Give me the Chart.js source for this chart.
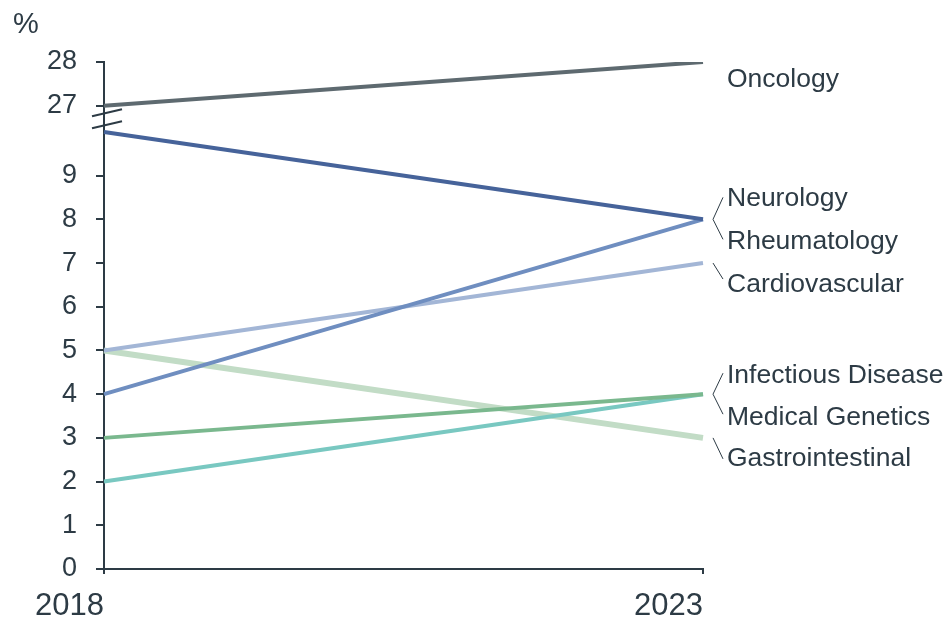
<!DOCTYPE html>
<html>
<head>
<meta charset="utf-8">
<script src="https://cdn.jsdelivr.net/npm/chart.js@4/dist/chart.umd.min.js"></script>
<style>
  html, body { margin: 0; padding: 0; background: #fff; }
  #wrap { width: 948px; height: 618px; }
</style>
</head>
<body>
<div id="wrap"><canvas id="chart" width="948" height="618"></canvas></div>
<script>
// data
const years = ["2018", "2023"];
const seriesNames = ["Oncology", "Neurology", "Rheumatology", "Cardiovascular",
  "Infectious Disease", "Medical Genetics", "Gastrointestinal"];
const oncology = [27, 28];
const neurology = [10, 8];
const rheumatology = [4, 8];
const cardiovascular = [5, 7];
const infectiousDisease = [3, 4];
const medicalGenetics = [2, 4];
const gastrointestinal = [5, 3];
const yTickValues = [0, 1, 2, 3, 4, 5, 6, 7, 8, 9, 27, 28];

// broken axis: values from 27 up are moved down to sit just above the break
const BREAK_AT = 10.3;
const UPPER_START = 10.6;
function toAxis(v) {
  return v >= 27 ? v - 27 + UPPER_START : v;
}
function fromAxis(v) {
  return v > BREAK_AT ? Math.round(v - UPPER_START + 27) : Math.round(v);
}

const INK = "#2d3b45";
const FONT = "'Liberation Sans', Arial, sans-serif";

const seriesValues = [oncology, neurology, rheumatology, cardiovascular,
  infectiousDisease, medicalGenetics, gastrointestinal];
const seriesColors = ["#5e6a70", "#46639a", "#6f8ec0", "#a3b6d6",
  "#7ab88e", "#79c8c1", "#c2dcc6"];
const seriesWidths = [4, 4, 4, 4, 4, 4, 6];

// label placement on the right (pixel offsets from the line end)
const labelOffsets = [17, -22, 21.5, 21, -19.5, 22.5, 20];
const leaderOffsets = [null, -22, 20, 16, -21, 20, 21];

const endLabels = {
  id: "endLabels",
  afterDatasetsDraw(chart) {
    const ctx = chart.ctx;
    const x = chart.scales.x;
    const y = chart.scales.y;
    const right = x.getPixelForValue(years.length - 1);

    ctx.save();
    ctx.fillStyle = INK;
    ctx.strokeStyle = INK;
    ctx.font = "26.5px " + FONT;
    ctx.textAlign = "left";
    ctx.textBaseline = "middle";

    seriesNames.forEach((name, i) => {
      const vals = seriesValues[i];
      const yEnd = y.getPixelForValue(toAxis(vals[vals.length - 1]));
      ctx.fillText(name, right + 24, yEnd + labelOffsets[i] + 1);
      if (leaderOffsets[i] !== null) {
        ctx.lineWidth = 1;
        ctx.beginPath();
        ctx.moveTo(right + 10, yEnd);
        ctx.lineTo(right + 20, yEnd + leaderOffsets[i]);
        ctx.stroke();
      }
    });

    // unit
    ctx.font = "29px " + FONT;
    ctx.fillText("%", 13, 25);

    // axis break marks
    const yb = y.getPixelForValue(BREAK_AT);
    const xa = chart.chartArea.left;
    ctx.lineWidth = 2;
    [-6, 6].forEach(d => {
      ctx.beginPath();
      ctx.moveTo(xa - 12, yb + d + 3.5);
      ctx.lineTo(xa + 18, yb + d - 3.5);
      ctx.stroke();
    });
    ctx.restore();
  }
};

new Chart(document.getElementById("chart"), {
  type: "line",
  data: {
    labels: years,
    datasets: seriesNames.map((name, i) => ({
      label: name,
      data: seriesValues[i].map(toAxis),
      borderColor: seriesColors[i],
      backgroundColor: seriesColors[i],
      borderWidth: seriesWidths[i],
      pointRadius: 0,
      tension: 0,
      fill: false
    }))
  },
  options: {
    responsive: false,
    animation: false,
    devicePixelRatio: 1,
    layout: { padding: { left: 0, right: 245, top: 62, bottom: 0 } },
    plugins: {
      legend: { display: false },
      tooltip: { enabled: false }
    },
    scales: {
      x: {
        type: "category",
        offset: false,
        afterFit(scale) { scale.height = 49; },
        border: { display: true, color: INK, width: 2 },
        grid: { drawOnChartArea: false, drawTicks: true, tickLength: 5, color: INK, lineWidth: 2 },
        ticks: {
          align: "end",
          padding: 14,
          color: INK,
          font: { family: FONT, size: 31 },
          maxRotation: 0
        }
      },
      y: {
        min: 0,
        max: toAxis(28),
        afterFit(scale) { scale.width = 104; },
        afterBuildTicks(scale) {
          scale.ticks = yTickValues.map(v => ({ value: toAxis(v) }));
        },
        border: { display: true, color: INK, width: 2 },
        grid: { drawOnChartArea: false, drawTicks: true, tickLength: 8, color: INK, lineWidth: 2 },
        ticks: {
          padding: 19,
          color: INK,
          font: { family: FONT, size: 27 },
          callback: value => String(fromAxis(value))
        }
      }
    }
  },
  plugins: [endLabels]
});
</script>
</body>
</html>
